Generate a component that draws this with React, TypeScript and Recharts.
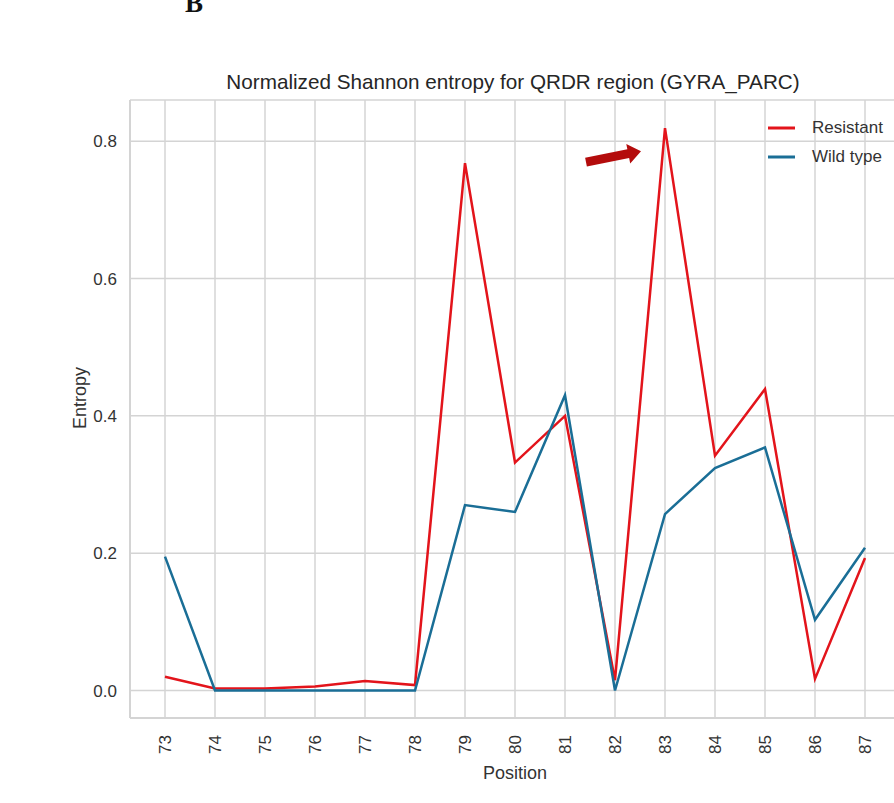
import React from 'react';
import {
  LineChart,
  Line,
  XAxis,
  YAxis,
  CartesianGrid,
  Legend,
  ReferenceLine,
} from 'recharts';

const positions = [73, 74, 75, 76, 77, 78, 79, 80, 81, 82, 83, 84, 85, 86, 87];
const resistant = [0.02, 0.003, 0.003, 0.006, 0.014, 0.008, 0.768, 0.332, 0.4, 0.015, 0.819, 0.342, 0.439, 0.017, 0.193];
const wildType = [0.195, 0, 0, 0, 0, 0, 0.27, 0.26, 0.43, 0, 0.257, 0.324, 0.354, 0.103, 0.208];
const yTicks = [0, 0.2, 0.4, 0.6, 0.8];
const xDomain: [number, number] = [72.3, 87.7];
const yDomain: [number, number] = [-0.04, 0.86];
// annotation arrow pointing at position 83 (data coords)
const arrowFrom = { x: 81.42, y: 0.7695 };
const arrowTo = { x: 82.52, y: 0.7855 };

const data = positions.map((p, i) => ({
  position: p,
  resistant: resistant[i],
  wildType: wildType[i],
}));

const FONT = '"Liberation Sans", Arial, sans-serif';
const RED = '#e3141b';
const BLUE = '#1a6e96';
const GRID = '#d4d4d4';

const XTick = ({ x, y, payload }: any) => (
  <text
    x={x}
    y={y}
    transform={`rotate(-90, ${x}, ${y})`}
    textAnchor="end"
    dominantBaseline="central"
    fontSize={17}
    fontFamily={FONT}
    fill="#333"
  >
    {payload.value}
  </text>
);

const Arrow = (props: any) => {
  const { x1, y1, x2, y2 } = props;
  const dx = x2 - x1;
  const dy = y2 - y1;
  const len = Math.sqrt(dx * dx + dy * dy);
  const ux = dx / len;
  const uy = dy / len;
  const nx = -uy;
  const ny = ux;
  const head = 13;
  const shaft = 4.5;
  const wing = 10;
  const bx = x2 - ux * head;
  const by = y2 - uy * head;
  const pts = [
    [x1 + nx * shaft, y1 + ny * shaft],
    [bx + nx * shaft, by + ny * shaft],
    [bx + nx * wing, by + ny * wing],
    [x2, y2],
    [bx - nx * wing, by - ny * wing],
    [bx - nx * shaft, by - ny * shaft],
    [x1 - nx * shaft, y1 - ny * shaft],
  ];
  return <polygon points={pts.map((p) => p.join(',')).join(' ')} fill="#b40c0c" />;
};

const renderLegend = (props: any) => (
  <div style={{ fontFamily: FONT, fontSize: 17, color: '#333' }}>
    {(props.payload || []).map((entry: any) => (
      <div key={entry.value} style={{ display: 'flex', alignItems: 'center', height: 29 }}>
        <svg width={27} height={4}>
          <line x1={0} y1={2} x2={27} y2={2} stroke={entry.color} strokeWidth={3} />
        </svg>
        <span style={{ marginLeft: 17 }}>{entry.value}</span>
      </div>
    ))}
  </div>
);

export default function App() {
  return (
    <div
      style={{
        position: 'fixed',
        left: 0,
        top: 0,
        width: 894,
        height: 803,
        overflow: 'hidden',
        background: '#fff',
      }}
    >
      <div
        style={{
          position: 'absolute',
          left: 185,
          top: -10,
          fontFamily: '"Liberation Serif", serif',
          fontWeight: 'bold',
          fontSize: 27,
          lineHeight: 1,
          color: '#111',
        }}
      >
        B
      </div>
      <div
        style={{
          position: 'absolute',
          left: 130,
          top: 70,
          width: 766,
          textAlign: 'center',
          fontFamily: FONT,
          fontSize: 20.7,
          lineHeight: '24px',
          color: '#262626',
        }}
      >
        Normalized Shannon entropy for QRDR region (GYRA_PARC)
      </div>
      <LineChart
        width={900}
        height={803}
        data={data}
        margin={{ top: 100, right: 0, bottom: 0, left: 0 }}
      >
        <CartesianGrid stroke={GRID} strokeWidth={1.5} />
        <XAxis
          xAxisId="top"
          orientation="top"
          dataKey="position"
          type="number"
          domain={xDomain}
          height={0}
          tick={false}
          tickLine={false}
          axisLine={{ stroke: GRID, strokeWidth: 2 }}
        />
        <XAxis
          dataKey="position"
          type="number"
          domain={xDomain}
          ticks={positions}
          height={85}
          tickSize={0}
          tickMargin={17}
          axisLine={{ stroke: GRID, strokeWidth: 2 }}
          tickLine={false}
          tick={<XTick />}
          label={{
            value: 'Position',
            position: 'insideBottom',
            offset: 24,
            style: { fontFamily: FONT, fontSize: 18, fill: '#333' },
          }}
        />
        <YAxis
          type="number"
          domain={yDomain}
          ticks={yTicks}
          width={130}
          tickSize={0}
          tickMargin={13}
          axisLine={{ stroke: GRID, strokeWidth: 2 }}
          tickLine={false}
          tickFormatter={(v: number) => v.toFixed(1)}
          tick={{ fontFamily: FONT, fontSize: 17, fill: '#333' }}
          label={{
            value: 'Entropy',
            angle: -90,
            position: 'center',
            dx: 15,
            dy: -11,
            style: { fontFamily: FONT, fontSize: 18, fill: '#333' },
          }}
        />
        <Legend
          layout="vertical"
          align="center"
          verticalAlign="middle"
          content={renderLegend}
          wrapperStyle={{ top: 113, left: 768, width: 130, height: 60 }}
        />
        <Line
          type="linear"
          dataKey="resistant"
          name="Resistant"
          stroke={RED}
          strokeWidth={2.5}
          dot={false}
          activeDot={false}
          isAnimationActive={false}
        />
        <Line
          type="linear"
          dataKey="wildType"
          name="Wild type"
          stroke={BLUE}
          strokeWidth={2.5}
          dot={false}
          activeDot={false}
          isAnimationActive={false}
        />
        <ReferenceLine
          segment={[arrowFrom, arrowTo]}
          ifOverflow="visible"
          shape={<Arrow />}
        />
      </LineChart>
    </div>
  );
}
